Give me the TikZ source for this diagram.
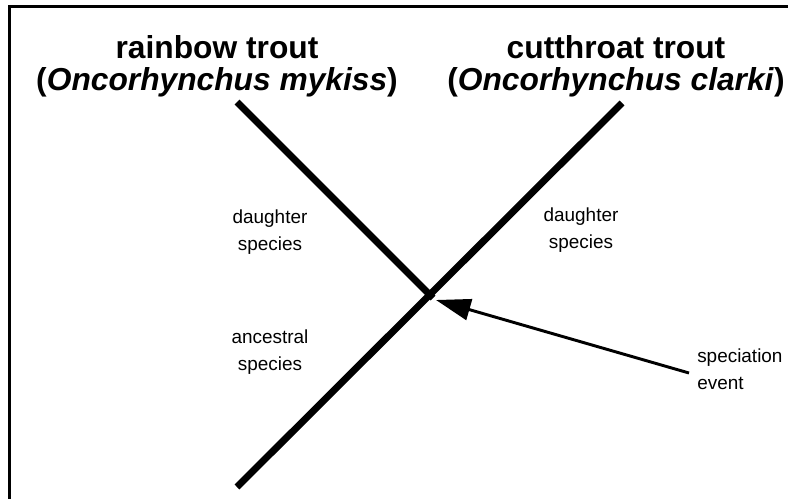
\documentclass[tikz,border=0pt]{standalone}
\usepackage{fontspec}
\setmainfont{Liberation Sans}
\usetikzlibrary{arrows.meta}
\begin{document}
\begin{tikzpicture}[x=0.75pt,y=-0.75pt,
  title/.style={font=\fontsize{23.8pt}{24pt}\selectfont\bfseries, align=center, inner sep=0pt},
  note/.style={font=\fontsize{14.2pt}{20.5pt}\selectfont, align=center, inner sep=0pt},
  lineage/.style={line width=5.2pt, line cap=butt},
  pointer/.style={line width=2.2pt, -{Triangle[length=26pt,width=16pt]}},
  frame/.style={line width=1.9pt}]
\useasboundingbox (0,0) rectangle (788,499);
% open frame: only the top and left edges
\draw[frame] (9.5,499) -- (9.5,6.5) -- (788,6.5);
% species titles
\node[title] (rainbow) at (217,66) {rainbow trout\\(\textit{Oncorhynchus mykiss})};
\node[title] (cutthroat) at (616,66) {cutthroat trout\\(\textit{Oncorhynchus clarki})};
% lineages
\coordinate (base) at (237,487);
\coordinate (ctop) at (622,103);
\coordinate (rtop) at (237,102);
\coordinate (split) at (433,298);
\draw[lineage] (base) -- (ctop);
\draw[lineage] (rtop) -- (split);
% labels
\node[note] (dleft) at (270,232) {daughter\\species};
\node[note] (dright) at (581,230) {daughter\\species};
\node[note] (anc) at (270,352) {ancestral\\species};
\node[note, align=left, anchor=west] (event) at (697,369) {speciation\\event};
\coordinate (tip) at (436,300);
\draw[pointer] (event.west) ++(-8,4) coordinate (tail) -- (tip);
\end{tikzpicture}
\end{document}
